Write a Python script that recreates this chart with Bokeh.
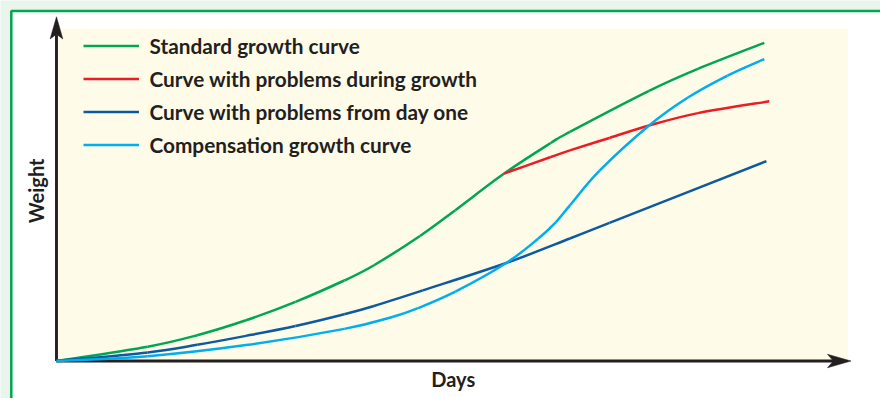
import math
from bokeh.plotting import figure
from bokeh.models import Range1d
from bokeh.core.properties import value
from bokeh.embed import file_html
from bokeh.resources import INLINE

# ---------------- data (days, weight) ----------------
standard_days = [0, 12.9, 19.9, 26.8, 33.8, 40.7, 44.9, 51.4, 56.4, 63.3, 69.9, 72.6, 83.8, 90.7, 100.1]
standard_weight = [0, 4.5, 8.1, 12.8, 18.6, 25.3, 30.1, 39.3, 47.4, 58.9, 68.5, 72.0, 84.9, 91.8, 100.0]

during_days = [63.3, 69.9, 72.6, 78.2, 83.8, 90.7, 100.8]
during_weight = [58.9, 64.1, 66.2, 70.1, 74.0, 77.9, 81.6]

dayone_days = [0, 12.9, 19.9, 26.8, 33.8, 40.7, 44.9, 51.8, 63.6, 72.6, 78.2, 100.4]
dayone_weight = [0, 2.7, 5.1, 7.9, 11.0, 14.7, 17.3, 22.2, 30.8, 38.5, 43.4, 62.8]

comp_days = [0, 12.9, 26.8, 40.7, 47.6, 51.1, 56.4, 63.6, 68.1, 70.6, 72.6, 76.8, 83.8,
             89.3, 94.9, 100.1]
comp_weight = [0, 1.5, 5.0, 10.1, 13.9, 16.6, 21.8, 30.8, 38.4, 43.6, 48.9, 59.8, 74.0,
               82.8, 89.7, 94.9]

series_labels = ["Standard growth curve", "Curve with problems during growth",
                 "Curve with problems from day one", "Compensation growth curve"]
x_label = "Days"
y_label = "Weight"

# ---------------- styles ----------------
MINT = "#e8f4ec"
CREAM = "#fffbe9"
BORDER_GREEN = "#00a651"
AXIS = "#231f20"
C_GREEN = "#00a651"
C_RED = "#ed1c24"
C_DBLUE = "#0d5a9e"
C_CYAN = "#00aeef"
FONT = "Lato"

W, H = 880, 398
REF_W, REF_H = 896, 414
KX, KY = W / REF_W, H / REF_H


# layout helpers: reference-image pixel -> data units
def rx(px):
    return (px - 57) / 7.2


def ry(py):
    return (375 - py) / 3.31


def smooth(xs, ys):
    """Catmull-Rom through the read points, drawn as cubic Bezier pieces."""
    n = len(xs)
    out = {k: [] for k in ("x0", "y0", "x1", "y1", "cx0", "cy0", "cx1", "cy1")}
    for i in range(n - 1):
        im = max(i - 1, 0)
        ip = min(i + 2, n - 1)
        out["x0"].append(xs[i]); out["y0"].append(ys[i])
        out["x1"].append(xs[i + 1]); out["y1"].append(ys[i + 1])
        out["cx0"].append(xs[i] + (xs[i + 1] - xs[im]) / 6)
        out["cy0"].append(ys[i] + (ys[i + 1] - ys[im]) / 6)
        out["cx1"].append(xs[i + 1] - (xs[ip] - xs[i]) / 6)
        out["cy1"].append(ys[i + 1] - (ys[ip] - ys[i]) / 6)
    return out


p = figure(width=W, height=H, x_range=Range1d(rx(0), rx(REF_W)), y_range=Range1d(ry(REF_H), ry(0)),
           output_backend="svg", toolbar_location=None, min_border=0,
           x_axis_location=None, y_axis_location=None,
           background_fill_color=MINT, border_fill_color=MINT, outline_line_color=None)
p.grid.visible = False

# frame box with green border
p.quad(left=[rx(11)], right=[rx(REF_W + 30)], top=[ry(11)], bottom=[ry(REF_H + 30)],
       fill_color="white", line_color=BORDER_GREEN, line_width=2.5)
# cream plotting area
p.quad(left=[0], right=[rx(863)], top=[ry(29)], bottom=[0], fill_color=CREAM, line_color=None)

# axes with arrow heads
p.segment(x0=[0], y0=[0], x1=[rx(850)], y1=[0], line_color=AXIS, line_width=2.9)
p.segment(x0=[0], y0=[0], x1=[0], y1=[ry(35)], line_color=AXIS, line_width=2.9)
p.patch(x=[rx(866), rx(842), rx(848), rx(842)], y=[0, ry(368), 0, ry(382)],
        fill_color=AXIS, line_color=AXIS, line_width=0.5)
p.patch(x=[0, rx(50.5), 0, rx(63.5)], y=[ry(17), ry(40), ry(35), ry(40)],
        fill_color=AXIS, line_color=AXIS, line_width=0.5)

# curves
LW = 2.5
for xs, ys, col, lab in [(standard_days, standard_weight, C_GREEN, series_labels[0]),
                         (during_days, during_weight, C_RED, series_labels[1]),
                         (dayone_days, dayone_weight, C_DBLUE, series_labels[2]),
                         (comp_days, comp_weight, C_CYAN, series_labels[3])]:
    p.bezier(line_color=col, line_width=LW, legend_label=lab, **smooth(xs, ys))

lg = p.legend[0]
row_h = 34.2 * KY
lg.location = (85 * KX, H - (48 * KY - row_h / 2) - 4 * row_h)
lg.padding = 0
lg.margin = 0
lg.spacing = 0
lg.glyph_width = round(57 * KX)
lg.glyph_height = round(row_h)
lg.label_height = round(row_h)
lg.label_standoff = 10
lg.label_text_font = FONT
lg.label_text_font_style = "bold"
lg.label_text_font_size = "20.8px"
lg.label_text_color = AXIS
lg.border_line_alpha = 0
lg.background_fill_alpha = 0

# axis titles
p.text(x=[rx(36)], y=[ry(198)], text=[y_label], angle=math.pi / 2, text_align="center",
       text_baseline="middle", text_font=value(FONT), text_font_style="bold",
       text_font_size="20px", text_color=AXIS)
p.text(x=[rx(461)], y=[ry(394)], text=[x_label], text_align="center",
       text_baseline="middle", text_font=value(FONT), text_font_style="bold",
       text_font_size="20px", text_color=AXIS)

open("out.html", "w").write(file_html(p, INLINE))
